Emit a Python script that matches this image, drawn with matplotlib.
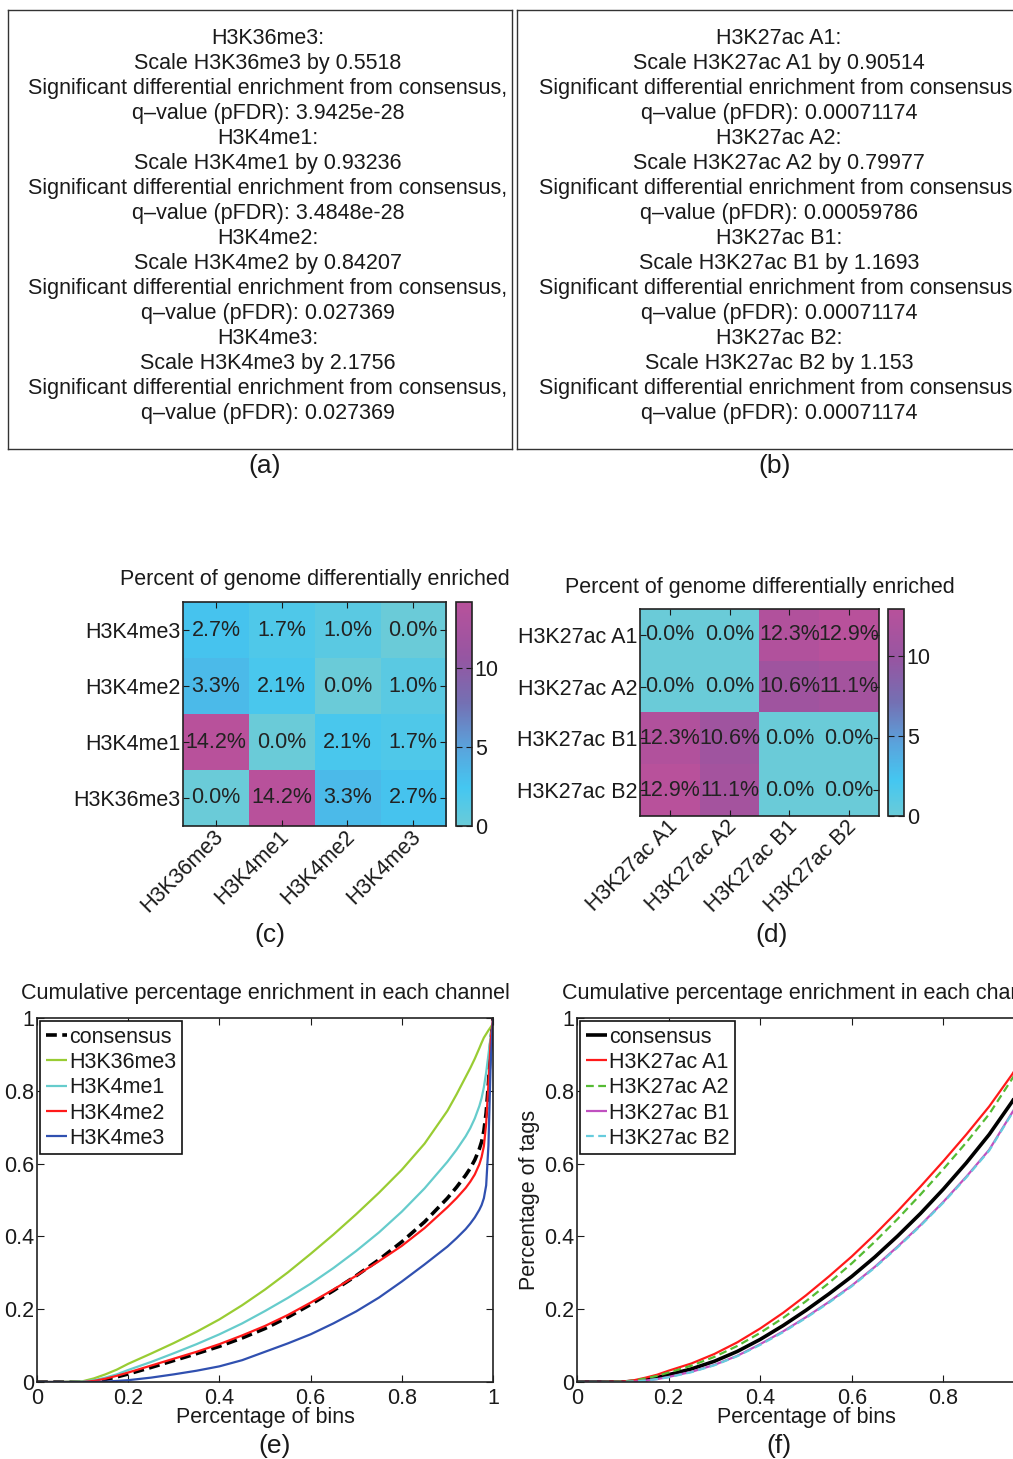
import numpy as np
import matplotlib
matplotlib.use('Agg')
import matplotlib.pyplot as plt
from matplotlib.colors import LinearSegmentedColormap
from matplotlib.transforms import ScaledTranslation

plt.rcParams['font.family'] = ['Liberation Sans', 'DejaVu Sans']
plt.rcParams['text.color'] = '#1a1a1a'
plt.rcParams['xtick.color'] = '#1a1a1a'
plt.rcParams['ytick.color'] = '#1a1a1a'

FS = 15.5          # base font size (pt)
W, H = 1013, 1459  # canvas size in pixels

# ---- (a) / (b): scaling summaries ----
marks_a = ['H3K36me3', 'H3K4me1', 'H3K4me2', 'H3K4me3']
scales_a = ['0.5518', '0.93236', '0.84207', '2.1756']
qvals_a = ['3.9425e-28', '3.4848e-28', '0.027369', '0.027369']

marks_b = ['H3K27ac A1', 'H3K27ac A2', 'H3K27ac B1', 'H3K27ac B2']
scales_b = ['0.90514', '0.79977', '1.1693', '1.153']
qvals_b = ['0.00071174', '0.00059786', '0.00071174', '0.00071174']

# ---- (c) / (d): percent of genome differentially enriched (rows top to bottom) ----
rows_c = ['H3K4me3', 'H3K4me2', 'H3K4me1', 'H3K36me3']
cols_c = ['H3K36me3', 'H3K4me1', 'H3K4me2', 'H3K4me3']
pct_c = [[2.7, 1.7, 1.0, 0.0],
         [3.3, 2.1, 0.0, 1.0],
         [14.2, 0.0, 2.1, 1.7],
         [0.0, 14.2, 3.3, 2.7]]

rows_d = ['H3K27ac A1', 'H3K27ac A2', 'H3K27ac B1', 'H3K27ac B2']
cols_d = ['H3K27ac A1', 'H3K27ac A2', 'H3K27ac B1', 'H3K27ac B2']
pct_d = [[0.0, 0.0, 12.3, 12.9],
         [0.0, 0.0, 10.6, 11.1],
         [12.3, 10.6, 0.0, 0.0],
         [12.9, 11.1, 0.0, 0.0]]

# ---- (e): cumulative enrichment, histone marks ----
bins_e = [0, 0.05, 0.1, 0.125, 0.15, 0.175, 0.2, 0.25, 0.3, 0.35, 0.4, 0.45, 0.5,
          0.55, 0.6, 0.65, 0.7, 0.75, 0.8, 0.85, 0.9, 0.92, 0.94, 0.95, 0.96, 0.97,
          0.975, 0.98, 0.985, 0.99, 0.995, 1.0]
consensus_e = [0, 0, 0, 0.002, 0.007, 0.014, 0.022, 0.04, 0.059, 0.078, 0.098, 0.121, 0.147,
               0.178, 0.213, 0.251, 0.292, 0.336, 0.385, 0.44, 0.505, 0.535, 0.568, 0.587,
               0.61, 0.64, 0.66, 0.69, 0.74, 0.82, 0.93, 1.0]
h3k36me3_e = [0, 0, 0.002, 0.01, 0.021, 0.034, 0.05, 0.078, 0.107, 0.138, 0.172, 0.211, 0.254,
              0.301, 0.352, 0.405, 0.461, 0.52, 0.583, 0.655, 0.745, 0.79, 0.838, 0.862,
              0.888, 0.917, 0.932, 0.946, 0.956, 0.966, 0.975, 0.985]
h3k4me1_e = [0, 0, 0.001, 0.005, 0.012, 0.021, 0.033, 0.055, 0.079, 0.104, 0.131, 0.161, 0.195,
             0.231, 0.27, 0.313, 0.36, 0.411, 0.468, 0.532, 0.605, 0.638, 0.675, 0.697,
             0.724, 0.758, 0.78, 0.81, 0.85, 0.9, 0.95, 0.985]
h3k4me2_e = [0, 0, 0, 0.003, 0.009, 0.017, 0.026, 0.045, 0.064, 0.083, 0.104, 0.128, 0.154,
             0.184, 0.218, 0.254, 0.292, 0.332, 0.374, 0.423, 0.48, 0.505, 0.533, 0.55,
             0.57, 0.598, 0.618, 0.648, 0.71, 0.82, 0.94, 1.0]
h3k4me3_e = [0, 0, 0, 0, 0.001, 0.003, 0.005, 0.012, 0.021, 0.031, 0.043, 0.06, 0.083,
             0.106, 0.131, 0.161, 0.194, 0.232, 0.276, 0.323, 0.372, 0.395, 0.42, 0.435,
             0.452, 0.473, 0.486, 0.505, 0.54, 0.65, 0.88, 1.0]

# ---- (f): cumulative enrichment, H3K27ac replicates ----
bins_f = [0, 0.05, 0.1, 0.125, 0.15, 0.175, 0.2, 0.25, 0.3, 0.35, 0.4, 0.45, 0.5, 0.55,
          0.6, 0.65, 0.7, 0.75, 0.8, 0.85, 0.9, 0.95, 0.97, 0.99, 1.0]
consensus_f = [0, 0, 0, 0.002, 0.006, 0.012, 0.02, 0.036, 0.057, 0.084, 0.117, 0.155, 0.197,
               0.242, 0.29, 0.343, 0.401, 0.463, 0.53, 0.602, 0.68, 0.77, 0.81, 0.85, 1.0]
a1_f = [0, 0, 0.001, 0.005, 0.012, 0.02, 0.031, 0.051, 0.077, 0.109, 0.147, 0.19, 0.238,
        0.29, 0.345, 0.405, 0.469, 0.537, 0.607, 0.68, 0.757, 0.845, 0.885, 0.925, 1.0]
a2_f = [0, 0, 0.001, 0.004, 0.01, 0.017, 0.026, 0.045, 0.069, 0.099, 0.135, 0.176, 0.222,
        0.272, 0.326, 0.385, 0.448, 0.515, 0.585, 0.658, 0.736, 0.833, 0.872, 0.912, 1.0]
b1_f = [0, 0, 0, 0.001, 0.004, 0.008, 0.014, 0.028, 0.047, 0.072, 0.104, 0.139, 0.178,
        0.22, 0.265, 0.316, 0.372, 0.431, 0.495, 0.564, 0.638, 0.74, 0.78, 0.82, 1.0]
b2_f = [0, 0, 0, 0.001, 0.004, 0.008, 0.013, 0.027, 0.046, 0.071, 0.102, 0.137, 0.176,
        0.218, 0.263, 0.314, 0.37, 0.429, 0.493, 0.562, 0.636, 0.738, 0.778, 0.818, 1.0]

ENRICH_CMAP = LinearSegmentedColormap.from_list(
    'enrich', [(0.0, '#6acbd8'), (0.17, '#44c7f1'), (0.35, '#5aa3dc'),
               (0.55, '#7470b3'), (0.75, '#9556a2'), (1.0, '#b8519b')])


def px_rect(x0, y0, x1, y1):
    # pixel box (top-left origin) -> figure fraction rect
    return [x0 / W, 1 - y1 / H, (x1 - x0) / W, (y1 - y0) / H]


def fig_text(fig, x, y, s, **kw):
    kw.setdefault('fontsize', FS)
    kw.setdefault('ha', 'center')
    kw.setdefault('va', 'center')
    return fig.text(x / W, 1 - y / H, s, **kw)


def summary_box(fig, rect, cx, marks, scales, qvals):
    ax = fig.add_axes(px_rect(*rect))
    ax.set_xticks([])
    ax.set_yticks([])
    for sp in ax.spines.values():
        sp.set_linewidth(1.0)
        sp.set_color('#333333')
    lines = []
    for m, s, q in zip(marks, scales, qvals):
        lines += [m + ':',
                  'Scale %s by %s' % (m, s),
                  'Significant differential enrichment from consensus,',
                  'q\u2013value (pFDR): ' + q]
    for i, line in enumerate(lines):
        fig_text(fig, cx, 44 + 25 * i, line, va='baseline')


def heatmap(fig, rect, cbar_rect, rows, cols, vals, title, title_y):
    vals = np.array(vals)
    ax = fig.add_axes(px_rect(*rect))
    im = ax.imshow(vals, cmap=ENRICH_CMAP, vmin=0, vmax=vals.max(),
                   aspect='auto', interpolation='nearest')
    for i in range(vals.shape[0]):
        for j in range(vals.shape[1]):
            ax.text(j, i, '%.1f%%' % vals[i, j], ha='center', va='center',
                    fontsize=FS, color='#222222')
    ax.set_xticks(range(len(cols)))
    ax.set_xticklabels(cols, rotation=45, ha='right', va='top',
                       rotation_mode='anchor', fontsize=FS)
    ax.set_yticks(range(len(rows)))
    ax.set_yticklabels(rows, fontsize=FS)
    ax.tick_params(direction='in', top=True, right=True, length=4, width=0.8, pad=2)
    ax.tick_params(axis='x', pad=1)
    # nudge the slanted labels a little toward their ticks
    shift = ScaledTranslation(-0.03, 0.01, fig.dpi_scale_trans)
    for lab in ax.get_xticklabels():
        lab.set_transform(lab.get_transform() + shift)
    for sp in ax.spines.values():
        sp.set_linewidth(1.2)
        sp.set_color('#222222')

    cax = fig.add_axes(px_rect(*cbar_rect))
    cb = fig.colorbar(im, cax=cax, ticks=[0, 5, 10])
    cb.outline.set_linewidth(1.2)
    cb.outline.set_edgecolor('#222222')
    cax.tick_params(direction='in', left=True, right=True, length=4, width=0.8,
                    pad=2, labelsize=FS)

    cx = (rect[0] + rect[2]) / 2
    fig_text(fig, cx, title_y, title)


def cumulative(fig, rect, x, series, title, ylabel_x):
    ax = fig.add_axes(px_rect(*rect))
    for label, y, color, dashes, lw in series:
        line, = ax.plot(x, y, color=color, lw=lw, label=label, solid_capstyle='butt')
        if dashes:
            line.set_dashes(dashes)
    ax.set_xlim(0, 1)
    ax.set_ylim(0, 1)
    ticks = [0, 0.2, 0.4, 0.6, 0.8, 1]
    tick_labels = ['0', '0.2', '0.4', '0.6', '0.8', '1']
    ax.set_xticks(ticks)
    ax.set_xticklabels(tick_labels)
    ax.set_yticks(ticks)
    ax.set_yticklabels(tick_labels)
    ax.tick_params(direction='in', top=True, right=True, length=5, width=0.8,
                   labelsize=FS)
    ax.tick_params(axis='x', pad=4)
    ax.tick_params(axis='y', pad=2)
    for sp in ax.spines.values():
        sp.set_linewidth(1.2)
        sp.set_color('#222222')

    leg = ax.legend(loc='upper left', fontsize=FS, frameon=True, fancybox=False,
                    edgecolor='#111111', framealpha=1, handlelength=1.0,
                    handletextpad=0.1, borderpad=0.25, labelspacing=0.2,
                    borderaxespad=0.15)
    leg.get_frame().set_linewidth(1.2)

    cx = (rect[0] + rect[2]) / 2
    fig_text(fig, cx, 993, title)
    fig_text(fig, cx, 1417, 'Percentage of bins')
    fig_text(fig, ylabel_x, (rect[1] + rect[3]) / 2, 'Percentage of tags', rotation=90)
    return ax


def main():
    fig = plt.figure(figsize=(W / 100, H / 100), dpi=100)
    fig.patch.set_facecolor('white')

    # (a), (b)
    summary_box(fig, (8, 10, 512, 449), 268, marks_a, scales_a, qvals_a)
    summary_box(fig, (517, 10, 1021, 449), 779, marks_b, scales_b, qvals_b)
    fig_text(fig, 265, 466, '(a)', fontsize=19)
    fig_text(fig, 775, 466, '(b)', fontsize=19)

    # (c), (d)
    heatmap(fig, (183, 602, 446, 826), (456, 602, 472, 826), rows_c, cols_c, pct_c,
            'Percent of genome differentially enriched', 579)
    heatmap(fig, (640, 609, 879, 816), (888, 609, 904, 816), rows_d, cols_d, pct_d,
            'Percent of genome differentially enriched', 587)
    fig_text(fig, 270, 935, '(c)', fontsize=19)
    fig_text(fig, 772, 935, '(d)', fontsize=19)

    # (e)
    series_e = [('consensus', consensus_e, 'black', (3, 1.5), 2.6),
                ('H3K36me3', h3k36me3_e, '#99cc33', None, 1.6),
                ('H3K4me1', h3k4me1_e, '#66cccc', None, 1.6),
                ('H3K4me2', h3k4me2_e, '#ff1a1a', None, 1.6),
                ('H3K4me3', h3k4me3_e, '#3050b0', None, 1.6)]
    cumulative(fig, (37, 1018, 493, 1382), bins_e, series_e,
               'Cumulative percentage enrichment in each channel', -10)
    fig_text(fig, 275, 1446, '(e)', fontsize=19)

    # (f)
    series_f = [('consensus', consensus_f, 'black', None, 2.6),
                ('H3K27ac A1', a1_f, '#ff1a1a', None, 1.6),
                ('H3K27ac A2', a2_f, '#55bb33', (3.5, 2), 1.6),
                ('H3K27ac B1', b1_f, '#c050c0', None, 1.6),
                ('H3K27ac B2', b2_f, '#66ccdd', (3.5, 2), 1.6)]
    cumulative(fig, (577, 1018, 1035, 1382), bins_f, series_f,
               'Cumulative percentage enrichment in each channel', 530)
    fig_text(fig, 779, 1446, '(f)', fontsize=19)

    fig.savefig('out.png', dpi=100)


if __name__ == '__main__':
    main()
